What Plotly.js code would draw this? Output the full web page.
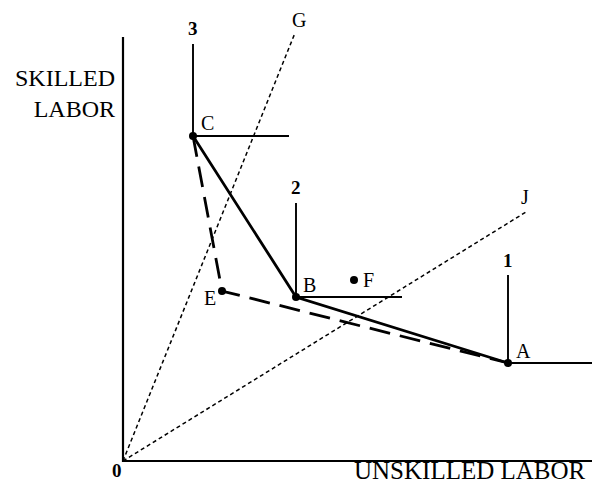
<!DOCTYPE html>
<html>
<head>
<meta charset="utf-8">
<script src="https://cdn.plot.ly/plotly-3.0.1.min.js"></script>
<style>html,body{margin:0;padding:0;background:#fff}#chart{width:592px;height:485px}</style>
</head>
<body>
<div id="chart"></div>
<script>
// Points (units: unskilled labor, skilled labor)
const pointLabels = ['C', 'B', 'A', 'E', 'F'];
const pointX = [7.0, 17.3, 38.5, 9.9, 23.1];
const pointY = [32.5, 16.4, 9.8, 17.0, 18.1];
const labelX = [8.4, 18.6, 40.0, 8.7, 24.5];
const labelY = [33.8, 17.6, 11.0, 16.3, 18.1];

// L-shaped isoquants
const isoNames = ['3', '2', '1'];
const isoCornerX = [7.0, 17.3, 38.5];
const isoCornerY = [32.5, 16.4, 9.8];
const isoTopY = [41.7, 25.8, 18.6];
const isoRightX = [16.6, 27.9, 46.9];
const isoLabelY = [43.3, 27.4, 20.1];

// Rays from origin
const rayNames = ['G', 'J'];
const rayEndX = [17.2, 40.3];
const rayEndY = [42.8, 24.9];
const rayLabelX = [17.6, 40.2];
const rayLabelY = [44.1, 26.4];

// Frontiers
const solidPath = ['C', 'B', 'A'];
const dashedPath = ['C', 'E', 'A'];

// Axes
const yAxisTop = 42.4;
const xAxisEnd = 46.9;
const yTitle = 'SKILLED<br>LABOR';
const xTitle = 'UNSKILLED LABOR';

const pt = n => pointLabels.indexOf(n);
const traces = [];
const base = {type: 'scatter', hoverinfo: 'skip', showlegend: false};

// axes
traces.push(Object.assign({}, base, {x: [0, 0, xAxisEnd], y: [yAxisTop, 0, 0], mode: 'lines', line: {color: '#000', width: 2.2}}));

// rays
rayNames.forEach((n, i) => {
  traces.push(Object.assign({}, base, {x: [0, rayEndX[i]], y: [0, rayEndY[i]], mode: 'lines', line: {color: '#000', width: 1.5, dash: '4px,3px'}}));
});

// isoquants
isoNames.forEach((n, i) => {
  traces.push(Object.assign({}, base, {x: [isoCornerX[i], isoCornerX[i], isoRightX[i]], y: [isoTopY[i], isoCornerY[i], isoCornerY[i]], mode: 'lines', line: {color: '#000', width: 1.9}}));
});

// dashed frontier
traces.push(Object.assign({}, base, {x: dashedPath.map(n => pointX[pt(n)]), y: dashedPath.map(n => pointY[pt(n)]), mode: 'lines', line: {color: '#000', width: 2.8, dash: '21px,10px'}}));
// solid frontier
traces.push(Object.assign({}, base, {x: solidPath.map(n => pointX[pt(n)]), y: solidPath.map(n => pointY[pt(n)]), mode: 'lines', line: {color: '#000', width: 2.8}}));

// points
traces.push(Object.assign({}, base, {x: pointX, y: pointY, mode: 'markers', marker: {color: '#000', size: 8}}));

const font = {family: 'Liberation Serif, Times New Roman, serif', color: '#000'};
const ann = [];
pointLabels.forEach((n, i) => ann.push({x: labelX[i], y: labelY[i], text: n, showarrow: false, font: Object.assign({}, font, {size: 20})}));
isoNames.forEach((n, i) => ann.push({x: isoCornerX[i], y: isoLabelY[i], text: '<b>' + n + '</b>', showarrow: false, font: Object.assign({}, font, {size: 19})}));
rayNames.forEach((n, i) => ann.push({x: rayLabelX[i], y: rayLabelY[i], text: n, showarrow: false, font: Object.assign({}, font, {size: 20})}));
ann.push({x: -0.6, y: -0.9, text: '<b>0</b>', showarrow: false, font: Object.assign({}, font, {size: 19})});
ann.push({x: 34.7, y: -0.9, text: xTitle, showarrow: false, font: Object.assign({}, font, {size: 25})});
ann.push({x: -0.6, y: 36.75, xanchor: 'right', align: 'right', text: yTitle, showarrow: false, font: Object.assign({}, font, {size: 24})});

const layout = {
  width: 592, height: 485,
  margin: {l: 0, r: 0, t: 0, b: 0},
  paper_bgcolor: '#fff', plot_bgcolor: '#fff',
  xaxis: {range: [-12.3, 46.9], visible: false, fixedrange: true},
  yaxis: {range: [-2.4, 46.1], visible: false, fixedrange: true},
  annotations: ann,
  showlegend: false
};
Plotly.newPlot('chart', traces, layout, {staticPlot: true, displayModeBar: false});
</script>
</body>
</html>
